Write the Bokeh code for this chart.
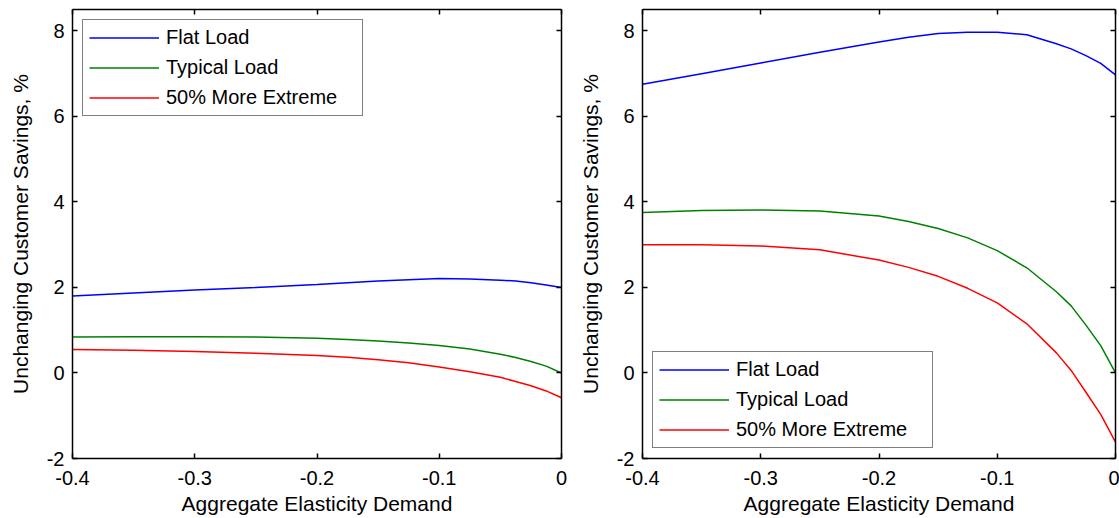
from bokeh.plotting import figure
from bokeh.models import LinearAxis, FixedTicker, Legend, LegendItem, Range1d
from bokeh.layouts import row
from bokeh.embed import file_html
from bokeh.resources import INLINE

# Aggregate elasticity of demand (x axis)
elasticity = [-0.4, -0.35, -0.3, -0.25, -0.2, -0.175, -0.15, -0.125, -0.1,
              -0.075, -0.05, -0.0375, -0.025, -0.0125, 0.0]

# Left panel: unchanging customer savings, %
left_flat = [1.80, 1.87, 1.94, 2.00, 2.07, 2.11, 2.15, 2.18, 2.21,
             2.20, 2.17, 2.15, 2.11, 2.06, 2.00]
left_typical = [0.84, 0.85, 0.85, 0.84, 0.81, 0.78, 0.75, 0.70, 0.64,
                0.56, 0.44, 0.36, 0.27, 0.16, 0.00]
left_extreme = [0.55, 0.53, 0.50, 0.46, 0.41, 0.37, 0.31, 0.24, 0.14,
                0.03, -0.10, -0.20, -0.30, -0.42, -0.58]

# Right panel: unchanging customer savings, %
right_flat = [6.75, 7.00, 7.25, 7.50, 7.74, 7.85, 7.94, 7.97, 7.97,
              7.91, 7.70, 7.58, 7.42, 7.24, 6.97]
right_typical = [3.75, 3.80, 3.81, 3.79, 3.67, 3.54, 3.38, 3.16, 2.86,
                 2.46, 1.90, 1.57, 1.12, 0.64, 0.00]
right_extreme = [3.00, 3.00, 2.97, 2.88, 2.64, 2.47, 2.26, 1.98, 1.64,
                 1.15, 0.47, 0.06, -0.45, -0.97, -1.62]

series_names = ["Flat Load", "Typical Load", "50% More Extreme"]
series_colors = ["#0000ff", "#008000", "#ff0000"]

x_ticks = [-0.4, -0.3, -0.2, -0.1, 0.0]
x_tick_labels = ["-0.4", "-0.3", "-0.2", "-0.1", "0"]
y_ticks = [-2, 0, 2, 4, 6, 8]
y_tick_labels = ["-2", "0", "2", "4", "6", "8"]

FONT = "Liberation Sans"


def style_axis(axis, ticks, labels, show_labels=True):
    axis.ticker = FixedTicker(ticks=ticks)
    axis.minor_tick_line_color = None
    axis.major_tick_in = 5
    axis.major_tick_out = 0
    axis.axis_line_color = "black"
    axis.axis_line_width = 1.5
    axis.major_tick_line_color = "black"
    axis.major_tick_line_width = 1.5
    axis.major_label_text_font = FONT
    axis.major_label_text_color = "black"
    if show_labels:
        axis.major_label_overrides = dict(zip(ticks, labels))
        axis.major_label_text_font_size = "20px"
    else:
        # box-style axis: ticks only, no numbers
        axis.major_label_overrides = {t: "" for t in ticks}
        axis.major_label_text_font_size = "1px"
        axis.major_label_standoff = 0


def make_panel(width, border_left, border_right, values, legend_location):
    p = figure(width=width, height=518,
               x_range=Range1d(-0.4, 0.0), y_range=Range1d(-2.0, 8.5),
               output_backend="svg", toolbar_location=None,
               min_border_left=border_left, min_border_right=border_right,
               min_border_top=9, min_border_bottom=60,
               background_fill_color="white", border_fill_color="white")
    p.outline_line_color = None
    p.xgrid.visible = False
    p.ygrid.visible = False

    style_axis(p.xaxis[0], x_ticks, x_tick_labels)
    p.xaxis[0].major_label_standoff = 12
    p.xaxis[0].axis_label = "Aggregate Elasticity Demand"
    p.xaxis[0].axis_label_standoff = 4

    style_axis(p.yaxis[0], y_ticks, y_tick_labels)
    p.yaxis[0].major_label_standoff = 8
    p.yaxis[0].axis_label = "Unchanging Customer Savings, %"
    p.yaxis[0].axis_label_standoff = 12

    for ax in (p.xaxis[0], p.yaxis[0]):
        ax.axis_label_text_font = FONT
        ax.axis_label_text_font_size = "21px"
        ax.axis_label_text_font_style = "normal"
        ax.axis_label_text_color = "black"

    top = LinearAxis()
    style_axis(top, x_ticks, x_tick_labels, show_labels=False)
    p.add_layout(top, "above")
    right = LinearAxis()
    style_axis(right, y_ticks, y_tick_labels, show_labels=False)
    p.add_layout(right, "right")

    items = []
    for name, color, ys in zip(series_names, series_colors, values):
        r = p.line(elasticity, ys, line_color=color, line_width=1.5)
        items.append(LegendItem(label=name, renderers=[r]))

    legend = Legend(items=items, location=legend_location)
    legend.margin = 10
    legend.padding = 6
    legend.spacing = 7
    legend.glyph_width = 70
    legend.glyph_height = 21
    legend.label_height = 21
    legend.label_width = 190
    legend.label_standoff = 7
    legend.label_text_font = FONT
    legend.label_text_font_size = "20px"
    legend.label_text_color = "black"
    legend.border_line_color = "black"
    legend.border_line_width = 1.5
    legend.background_fill_color = "white"
    legend.background_fill_alpha = 1.0
    p.add_layout(legend)
    return p


left_panel = make_panel(575, 72, 14, [left_flat, left_typical, left_extreme], "top_left")
right_panel = make_panel(544, 62, 4, [right_flat, right_typical, right_extreme], "bottom_left")

layout = row(left_panel, right_panel)

open("out.html", "w").write(file_html(layout, INLINE))
